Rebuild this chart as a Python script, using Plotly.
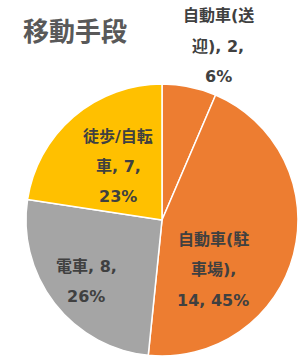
import plotly.graph_objects as go

# ---- data ----
title_text = "移動手段"
categories = ["自動車(送迎)", "自動車(駐車場)", "電車", "徒歩/自転車"]
values = [2, 14, 8, 7]

# ---- style ----
slice_colors = ["#ED7D31", "#ED7D31", "#A5A5A5", "#FFC000"]
break_idx = [[5, 11], [5, 9], [6], [5, 10]]          # where label text wraps
label_px = [(218, [16, 46, 76]), (213, [239, 269, 300]),
            (86, [266, 296]), (118, [136, 166, 196])]  # label line centres (px)
W, H = 304, 359
FONT = "DejaVu Sans, Noto Sans CJK JP"

total = sum(values)
fig = go.Figure(go.Pie(
    labels=categories, values=values, sort=False, direction="clockwise",
    rotation=0, textinfo="none", hoverinfo="label+value+percent",
    marker=dict(colors=slice_colors, line=dict(color="white", width=1.5)),
    domain=dict(x=[26 / W, 298 / W], y=[3 / H, 275 / H]),
    showlegend=False,
))

annotations = [dict(text="<b>" + title_text + "</b>", x=75 / W, y=1 - 30 / H,
                    xref="paper", yref="paper", showarrow=False,
                    xanchor="center", yanchor="middle",
                    font=dict(family="Noto Sans CJK JP", size=26, color="#595959"))]
for cat, v, brk, (px, pys) in zip(categories, values, break_idx, label_px):
    full = f"{cat}, {v}, {round(100 * v / total)}%"
    cuts = [0] + brk + [len(full)]
    lines = [full[a:b].strip() for a, b in zip(cuts[:-1], cuts[1:])]
    for line, py in zip(lines, pys):
        annotations.append(dict(text="<b>" + line + "</b>", x=px / W, y=1 - py / H,
                                xref="paper", yref="paper", showarrow=False,
                                xanchor="center", yanchor="middle",
                                font=dict(family=FONT, size=16, color="#404040")))

fig.update_layout(width=W, height=H, margin=dict(l=0, r=0, t=0, b=0),
                  paper_bgcolor="white", plot_bgcolor="white",
                  annotations=annotations, font=dict(family=FONT))
fig.write_html("out.html")
